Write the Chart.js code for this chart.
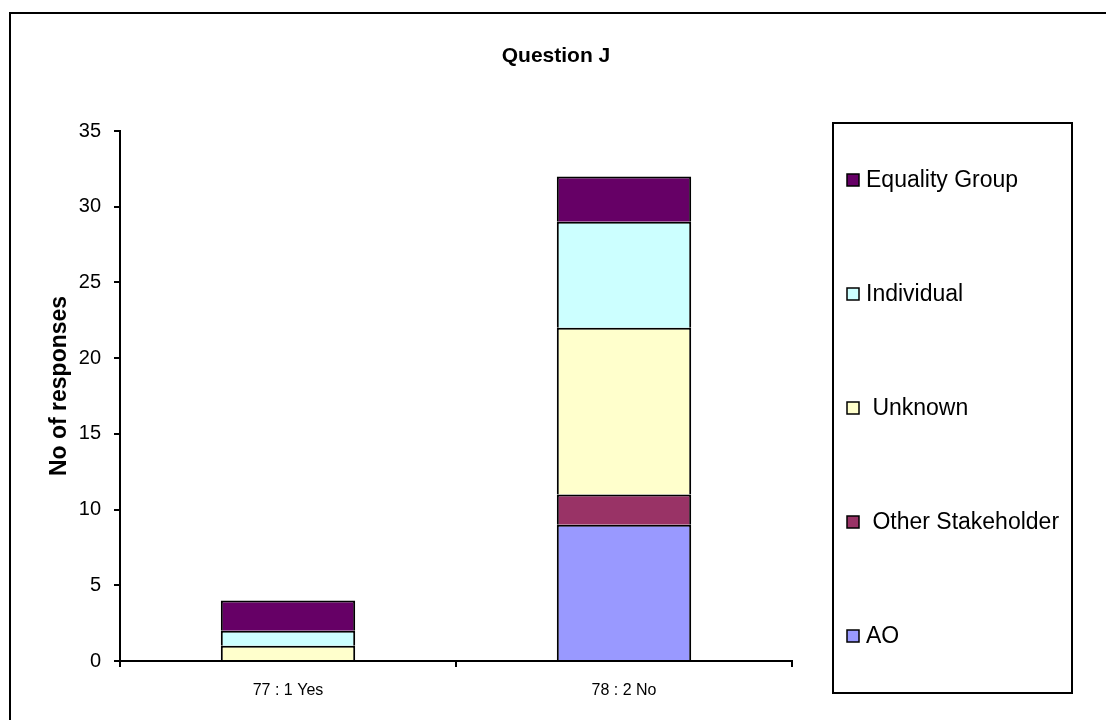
<!DOCTYPE html>
<html>
<head>
<meta charset="utf-8">
<title>Question J</title>
<script src="https://cdn.jsdelivr.net/npm/chart.js@4.4.6/dist/chart.umd.js"></script>
<style>
  html, body { margin: 0; padding: 0; background: #fff; }
  #wrap { width: 1106px; height: 720px; position: relative; }
</style>
</head>
<body>
<div id="wrap"><canvas id="chart" width="1106" height="720"></canvas></div>
<script>
const categories = ['77 : 1 Yes', '78 : 2 No'];
const seriesNames = ['AO', ' Other Stakeholder', ' Unknown', 'Individual', 'Equality Group'];
const seriesColors = ['#9999FF', '#993366', '#FFFFCC', '#CCFFFF', '#660066'];
const aoValues = [0, 9];
const otherValues = [0, 2];
const unknownValues = [1, 11];
const individualValues = [1, 7];
const equalityValues = [2, 3];
const yTicks = [0, 5, 10, 15, 20, 25, 30, 35];

const FONT = 'Arial, "Liberation Sans", sans-serif';
const seriesValues = [aoValues, otherValues, unknownValues, individualValues, equalityValues];

// frame, title, axis title and boxed legend on the right
const decorations = {
  id: 'decorations',
  afterDraw(chart) {
    const { ctx } = chart;
    ctx.save();
    ctx.strokeStyle = '#000';
    ctx.lineWidth = 2;
    ctx.strokeRect(10, 13, 1110, 730);

    ctx.fillStyle = '#000';
    ctx.font = `bold 21px ${FONT}`;
    ctx.textAlign = 'center';
    ctx.textBaseline = 'middle';
    ctx.fillText('Question J', 556, 56);

    ctx.save();
    ctx.translate(60, 386);
    ctx.rotate(-Math.PI / 2);
    ctx.font = `bold 23px ${FONT}`;
    ctx.fillText('No of responses', 0, 0);
    ctx.restore();

    ctx.lineWidth = 2;
    ctx.strokeRect(833, 123, 239, 570);

    const items = chart.data.datasets.map((ds) => ({ label: ds.label, color: ds.backgroundColor })).reverse();
    ctx.font = `23px ${FONT}`;
    ctx.textAlign = 'left';
    items.forEach((item, k) => {
      const cy = 180 + k * 114;
      ctx.fillStyle = item.color;
      ctx.fillRect(847, cy - 6, 12, 12);
      ctx.lineWidth = 1.5;
      ctx.strokeStyle = '#000';
      ctx.strokeRect(847, cy - 6, 12, 12);
      ctx.fillStyle = '#000';
      ctx.fillText(item.label, 866, cy + 1);
    });
    ctx.restore();
  }
};

new Chart(document.getElementById('chart'), {
  type: 'bar',
  data: {
    labels: categories,
    datasets: seriesNames.map((name, i) => ({
      label: name,
      data: seriesValues[i],
      backgroundColor: seriesColors[i],
      borderColor: '#000',
      borderWidth: 2,
      borderSkipped: 'bottom',
      categoryPercentage: 1,
      barPercentage: 0.4
    }))
  },
  options: {
    responsive: false,
    animation: false,
    layout: { padding: { left: 0, top: 131, right: 314, bottom: 0 } },
    plugins: {
      legend: { display: false },
      title: { display: false },
      tooltip: { enabled: false }
    },
    scales: {
      x: {
        stacked: true,
        afterFit: (scale) => { scale.height = 59; },
        grid: { display: true, drawOnChartArea: false, drawTicks: true, tickLength: 6, color: '#000', lineWidth: 2, offset: true },
        border: { display: true, color: '#000', width: 2 },
        ticks: { color: '#000', font: { family: FONT, size: 16 }, padding: 14 }
      },
      y: {
        stacked: true,
        min: 0,
        max: 35,
        afterFit: (scale) => { scale.width = 120; },
        afterBuildTicks: (scale) => { scale.ticks = yTicks.map((v) => ({ value: v })); },
        grid: { display: true, drawOnChartArea: false, drawTicks: true, tickLength: 6, color: '#000', lineWidth: 2 },
        border: { display: true, color: '#000', width: 2 },
        ticks: { color: '#000', font: { family: FONT, size: 20 }, padding: 13 }
      }
    }
  },
  plugins: [decorations]
});
</script>
</body>
</html>
